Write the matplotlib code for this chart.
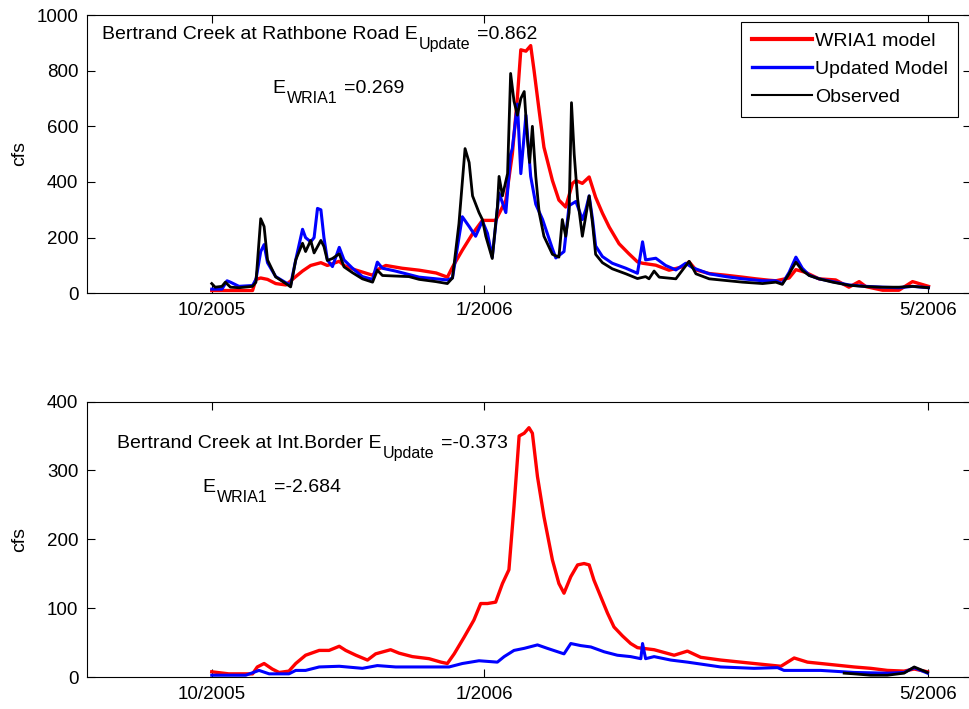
import matplotlib
matplotlib.use("Agg")
import matplotlib.pyplot as plt

plt.rcParams['font.family'] = ['Liberation Sans', 'DejaVu Sans']

# ---------------- data (day index from start of record, flow in cfs) ----------------
tick_days = [0, 80.1, 210.8]
tick_labels = ['10/2005', '1/2006', '5/2006']

# Bertrand Creek at Rathbone Road
rr_obs_day = [0, 1, 3, 4, 5.5, 8, 12, 13, 14.4, 15.4, 16.4, 18.8, 21.8, 23.2, 24.7, 26.7, 27.6,
              29.1, 30.1, 32.1, 33, 34, 35.5, 37.5, 38.9, 41.4, 44.3, 47.3, 48.7, 50.2, 54, 58,
              61, 65.9, 69.3, 70.8, 72.7, 74.5, 75.7, 76.7, 78.6, 79.6, 80.6, 82.5, 84, 84.5,
              85.5, 87, 87.9, 88.9, 89.9, 90.9, 91.9, 92.8, 93.5, 94.3, 95.3, 96.3, 97.7, 100.2,
              102.1, 103.1, 104.1, 105.1, 105.8, 106.6, 107.6, 109, 111, 112, 112.9, 114.9,
              117.8, 121.8, 125.2, 127.6, 128.6, 130.1, 131.6, 136.5, 140.4, 142.4, 146.3,
              151.2, 156.1, 162, 165.9, 167.8, 169.8, 171.8, 173.7, 175.7, 178.6, 182.6, 187.4,
              192.4, 197.3, 202.1, 206.1, 210.8]
rr_obs_cfs = [35, 22, 25, 40, 22, 20, 25, 40, 268, 240, 120, 59, 35, 23, 120, 180, 150,
              190, 145, 190, 168, 118, 125, 142, 95, 74, 52, 40, 83, 64, 62, 60,
              50, 42, 35, 55, 250, 520, 470, 350, 290, 265, 205, 125, 310, 420,
              350, 430, 790, 690, 640, 700, 725, 560, 470, 600, 420, 290, 205, 140,
              130, 265, 205, 290, 685, 500, 340, 205, 350, 250, 140, 110,
              88, 70, 53, 60, 52, 80, 58, 52, 115, 70, 52,
              46, 40, 35, 40, 32, 70, 112, 82, 64, 52, 40, 29,
              24, 22, 22, 25, 20]

rr_upd_day = [0, 3, 4.5, 5.5, 8, 12, 13, 14.4, 15.4, 16.4, 18.8, 21.8, 23.2, 24.7, 26.7, 27.6,
              29.1, 30.1, 31.1, 32.1, 33, 34, 35.5, 37.5, 38.9, 41.4, 44.3, 47.3, 48.7, 50.2,
              54, 61, 69.3, 70.8, 72.7, 73.7, 75.7, 77.6, 79.6, 81.1, 82.5, 84.5, 86.5, 87.9,
              88.4, 89.9, 90.9, 92.4, 93.8, 95.3, 97.3, 100.2, 101.2, 103.6, 105.1, 107.1, 108,
              109, 110, 111, 112, 112.9, 114.9, 117.8, 121.8, 125.2, 126.7, 127.6, 130.6,
              133.5, 136.5, 139.4, 141.4, 146.3, 151.2, 156.1, 162, 165.9, 167.8, 169.8,
              171.8, 173.7, 175.7, 178.6, 182.6, 187.4, 192.4, 197.3, 202.1, 206.1, 210.8]
rr_upd_cfs = [15, 15, 45, 40, 25, 28, 50, 150, 175, 110, 60, 38, 30, 120, 230, 200,
              185, 200, 305, 300, 200, 120, 96, 165, 120, 90, 60, 50, 112, 90,
              80, 58, 48, 55, 200, 275, 240, 205, 260, 215, 130, 360, 290, 500,
              520, 680, 430, 640, 420, 320, 265, 160, 127, 150, 315, 330, 300,
              265, 300, 350, 265, 170, 132, 108, 90, 72, 185, 120, 126,
              100, 84, 108, 92, 70, 60, 52, 45, 45, 35, 75,
              130, 90, 65, 52, 42, 30, 25, 22, 20, 25, 20]

rr_wria_day = [0, 12, 13, 14.4, 16.4, 18.8, 21.8, 24.7, 26.7, 29.1, 32.1, 34, 37.5, 38.9, 42,
               47.3, 48.7, 51.2, 56, 61, 66, 69.3, 70.8, 73.7, 76.7, 79.6, 83.5, 85, 86.5,
               88.4, 89.9, 90.9, 92.4, 93.8, 94.8, 96.3, 97.7, 100.2, 102.1, 104.1, 106.1,
               107.1, 109, 111, 112.9, 114.9, 116.9, 119.8, 122.7, 125.2, 126.7, 130.6,
               134.5, 138.4, 140.4, 142.4, 146.3, 151.2, 156.1, 160, 163.9, 165.9, 169.8,
               171.8, 174.7, 178.6, 183.5, 187.4, 190.4, 192.4, 197.3, 202.1, 206.1, 210.8]
rr_wria_cfs = [10, 10, 50, 55, 50, 35, 30, 60, 80, 100, 110, 100, 115, 100, 85,
               65, 85, 100, 90, 83, 73, 58, 94, 155, 214, 262, 262, 298, 335,
               500, 705, 875, 870, 890, 800, 655, 525, 405, 335, 310, 395,
               405, 395, 418, 345, 288, 238, 178, 142, 113, 108, 101,
               83, 95, 113, 84, 71, 65, 58, 52, 47, 45, 55,
               85, 75, 52, 48, 22, 42, 24, 11, 11, 42, 25]

# Bertrand Creek at the international border
ib_obs_day = [186, 188.9, 193.8, 198.7, 203.6, 206.6, 210.5]
ib_obs_cfs = [6, 5, 3, 3, 6, 15, 7]

ib_upd_day = [0, 5, 10, 13.9, 16.9, 22.7, 24.7, 27.6, 31.6, 37.5, 44.3, 48.7, 54.1, 63.9,
              69.8, 73.7, 78.6, 84, 86, 88.9, 91.9, 95.8, 98.7, 103.6, 105.6, 108.5, 111.5,
              115.4, 119.3, 123.2, 126.2, 126.7, 127.6, 130.1, 135, 139.9, 149.7, 159.5,
              166.4, 168.3, 179.1, 188.9, 198.7, 203.6, 206.6, 210.5]
ib_upd_cfs = [3, 3, 3, 10, 5, 5, 10, 10, 15, 16, 13, 17, 15, 15,
              15, 20, 24, 22, 30, 39, 42, 47, 42, 34, 49, 46, 44,
              37, 32, 30, 27, 49, 27, 30, 25, 22, 15, 13,
              14, 10, 10, 7, 6, 7, 14, 6]

ib_wria_day = [0, 5, 12, 13.4, 15.4, 17.8, 19.8, 22.7, 24.7, 27.6, 31.6, 34.5, 37.5, 39.4,
               42.4, 45.8, 48.2, 52.6, 55.1, 59, 63.9, 67.4, 69.3, 71.3, 74.2, 77.1, 79.1,
               81.1, 83.5, 85.5, 87.4, 88.9, 90.4, 91.9, 93.3, 94.3, 95.8, 97.7, 100.2,
               102.1, 103.6, 105.6, 107.6, 109.5, 111, 112.4, 114.4, 116.4, 118.3, 120.8,
               123.2, 125.2, 130.1, 136, 139.9, 143.8, 149.7, 159.5, 167.4, 171.3, 175.2,
               181.1, 188.9, 193.8, 198.7, 203.6, 206.6, 210.5]
ib_wria_cfs = [8, 5, 5, 15, 20, 12, 7, 9, 20, 32, 39, 39, 45, 39,
               32, 25, 34, 40, 35, 30, 27, 22, 20, 34, 58, 83, 107,
               107, 109, 136, 156, 248, 350, 354, 362, 354, 291, 233, 170,
               136, 122, 146, 163, 165, 163, 141, 117, 93, 73, 60,
               49, 43, 40, 32, 38, 29, 25, 20, 16, 28, 22,
               19, 15, 13, 10, 9, 12, 8]

series_labels = ['WRIA1 model', 'Updated Model', 'Observed']

# ---------------- figure ----------------
W, H = 970, 709
fig = plt.figure(figsize=(W / 100, H / 100), dpi=100)


def px_axes(left, top, right, bottom):
    return fig.add_axes([left / W, 1 - bottom / H, (right - left) / W, (bottom - top) / H])


ax1 = px_axes(87.3, 15, 971, 293.3)
ax2 = px_axes(87.3, 401.5, 971, 677.3)

FS = 14
for ax, ymax, step in ((ax1, 1000, 200), (ax2, 400, 100)):
    ax.set_xlim(-36.6, 223.3)
    ax.set_ylim(0, ymax)
    ax.set_xticks(tick_days)
    ax.set_xticklabels(tick_labels)
    ax.set_yticks(range(0, ymax + 1, step))
    ax.tick_params(direction='in', length=5.8, width=0.8, top=True, right=True,
                   labelsize=13.5, pad=6.5, colors='black')
    for sp in ax.spines.values():
        sp.set_linewidth(0.8)
        sp.set_color('black')

LW_R, LW_B, LW_K = 2.4, 2.2, 2.0
ax1.plot(rr_wria_day, rr_wria_cfs, color='#ff0000', lw=LW_R, label=series_labels[0])
ax1.plot(rr_upd_day, rr_upd_cfs, color='#0000ff', lw=LW_B, label=series_labels[1])
ax1.plot(rr_obs_day, rr_obs_cfs, color='black', lw=LW_K, label=series_labels[2])

ax2.plot(ib_wria_day, ib_wria_cfs, color='#ff0000', lw=LW_R)
ax2.plot(ib_upd_day, ib_upd_cfs, color='#0000ff', lw=LW_B)
ax2.plot(ib_obs_day, ib_obs_cfs, color='black', lw=LW_K)

leg = ax1.legend(loc='upper right', bbox_to_anchor=(958.3 / W, 1 - 21.7 / H),
                 bbox_transform=fig.transFigure, borderaxespad=0, fontsize=FS,
                 fancybox=False, framealpha=1, edgecolor='black', handlelength=3.1,
                 handletextpad=0.15, borderpad=0.55, labelspacing=0.53)
leg.get_frame().set_linewidth(0.8)
# legend keys: red thickest, black thinnest
for line, lw in zip(leg.get_lines(), (3.0, 2.4, 1.5)):
    line.set_linewidth(lw)

fig.text(20 / W, 1 - 154 / H, 'cfs', rotation=90, ha='center', va='center', fontsize=FS)
fig.text(20 / W, 1 - 539.4 / H, 'cfs', rotation=90, ha='center', va='center', fontsize=FS)

renderer = fig.canvas.get_renderer()


def runs(x0, base, pieces):
    """Draw text pieces left to right; each piece is (text, size, drop_px, gap_px)."""
    x = x0
    for s, size, drop, gap in pieces:
        x += gap
        t = fig.text(x / W, 1 - (base + drop) / H, s, fontsize=size,
                     ha='left', va='baseline')
        x = t.get_window_extent(renderer).x1


SUB = 11.5
DROP = 10
runs(102, 39.3, [('Bertrand Creek at Rathbone Road E', FS, 0, 0),
                 ('Update', SUB, DROP, 1), ('=0.862', FS, 0, 7)])
runs(272.7, 92.7, [('E', FS, 0, 0), ('WRIA1', SUB, DROP, 1), ('=0.269', FS, 0, 7)])
runs(117, 448.3, [('Bertrand Creek at Int.Border E', FS, 0, 0),
                  ('Update', SUB, DROP, 1), ('=-0.373', FS, 0, 7)])
runs(202.7, 491.7, [('E', FS, 0, 0), ('WRIA1', SUB, DROP, 1), ('=-2.684', FS, 0, 7)])

fig.savefig('out.png', dpi=100)
